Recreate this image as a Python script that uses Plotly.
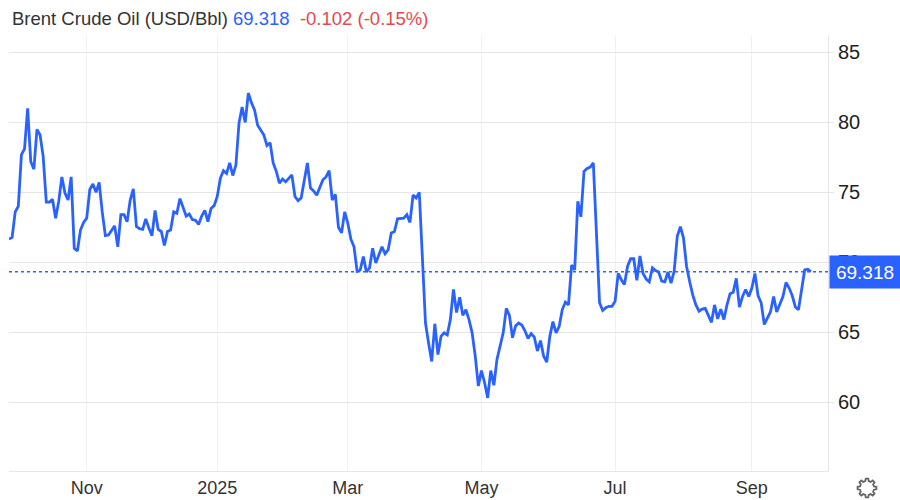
import math
import pandas as pd
import plotly.graph_objects as go

values = [
71.65,71.78,73.6,74.0,77.7,78.1,81.0,77.2,76.65,79.5,79.1,77.55,74.3,74.3,74.5,73.15,74.35,76.1,74.95,74.45,
76.1,71.0,70.8,72.3,72.85,73.15,75.2,75.6,75.0,75.7,73.6,71.9,71.95,72.3,72.6,71.1,73.4,73.4,72.9,74.45,
75.25,72.55,72.4,72.35,73.1,72.45,71.9,73.7,72.35,72.2,71.2,72.2,72.3,73.6,73.5,74.55,73.95,73.3,73.45,73.05,
73.0,72.7,73.3,73.7,72.9,73.85,74.05,74.7,76.0,76.55,76.35,77.1,76.2,76.95,79.95,81.1,80.0,82.1,81.4,80.9,
79.8,79.4,79.1,78.35,78.55,77.1,76.5,75.65,75.95,75.75,76.0,76.25,74.7,74.4,
74.6,75.8,77.1,75.3,75.1,74.8,75.3,75.9,76.1,76.55,74.45,74.85,72.5,72.1,73.6,72.8,71.65,71.1,69.35,69.45,
70.4,69.3,69.6,71.0,69.95,70.6,71.1,70.6,70.9,72.1,72.2,73.1,73.1,73.15,73.4,72.85,74.8,74.6,75.0,69.95,
65.65,64.2,62.9,65.6,63.4,64.7,64.95,64.8,65.9,68.05,66.4,67.5,66.2,66.6,65.9,64.95,63.3,61.15,62.25,61.4,
60.3,62.25,61.2,63.05,64.0,64.95,66.7,66.2,64.6,65.45,65.65,65.5,65.1,64.55,64.9,64.65,63.65,64.4,63.3,62.85,
64.7,65.75,64.95,65.4,66.6,67.15,66.95,69.8,69.45,74.35,73.25,76.5,76.7,76.8,77.1,72.1,67.1,
66.55,66.75,66.85,66.85,67.2,69.2,68.75,68.4,69.7,70.25,70.25,68.7,70.45,69.2,68.8,68.6,69.6,69.4,69.3,68.65,
68.6,69.3,68.5,69.35,71.85,72.55,71.75,69.7,68.6,67.65,66.95,66.5,66.65,66.7,66.2,65.7,66.95,65.95,66.65,65.9,
66.95,67.75,67.85,68.85,66.8,67.55,68.05,67.55,68.15,69.2,67.6,67.1,65.55,66.0,66.45,67.55,66.45,67.0,67.55,68.55,
68.15,67.6,66.8,66.6,68.05,69.45,69.5,69.318,
]
holidays = ["2024-12-25", "2025-01-01", "2025-04-18"]
all_days = pd.bdate_range(end="2025-09-26", periods=len(values) + len(holidays))
dates = all_days[~all_days.isin(pd.to_datetime(holidays))]
dates = dates[-len(values):]
tick_dates = ["2024-10-31", "2024-12-31", "2025-02-28", "2025-05-01", "2025-07-01", "2025-09-01"]
tick_labels = ["Nov", "2025", "Mar", "May", "Jul", "Sep"]
y_ticks = [60, 65, 70, 75, 80, 85]
last_value = 69.318
blue = "#2962ff"


def gear_path(teeth=8, outer=9.5, inner=7.2, hole=3.2):
    pts = []
    step = 2 * math.pi / teeth
    for k in range(teeth):
        a = k * step
        for frac, r in ((-0.30, inner), (-0.17, outer), (0.17, outer), (0.30, inner)):
            pts.append((r * math.cos(a + frac * step), r * math.sin(a + frac * step)))
    path = "M " + " L ".join(f"{x:.2f},{y:.2f}" for x, y in pts) + " Z"
    path += f" M {hole},0 A {hole},{hole} 0 1,0 {-hole},0 A {hole},{hole} 0 1,0 {hole},0 Z"
    return path


fig = go.Figure()
fig.add_trace(go.Scatter(x=dates, y=values, mode="lines",
                         line=dict(color=blue, width=2.8), hoverinfo="skip"))
fig.add_shape(type="line", xref="paper", x0=0, x1=1, yref="y", y0=last_value, y1=last_value,
              line=dict(color=blue, width=1.3, dash="dot"))
fig.add_shape(type="path", path=gear_path(), xref="paper", yref="paper",
              xsizemode="pixel", ysizemode="pixel", xanchor=1.0476, yanchor=-0.039,
              line=dict(color="#666666", width=1.8), layer="above")
fig.add_annotation(xref="paper", x=1.0012, xanchor="left", yref="y", y=last_value, yanchor="middle",
                   text="69.318", showarrow=False, bgcolor=blue, width=70, height=32, borderpad=0,
                   font=dict(family="Liberation Sans, Arial", size=19, color="white"))
fig.add_annotation(xref="paper", yref="paper", x=0.0012, y=1.037, xanchor="left", yanchor="middle",
                   showarrow=False,
                   text="Brent Crude Oil (USD/Bbl) <span style='color:#2962ff'>69.318</span>"
                        "  <span style='color:#e8474c'>-0.102 (-0.15%)</span>",
                   font=dict(family="Liberation Sans, Arial", size=18.5, color="#333333"))

fig.update_layout(
    width=900, height=500, autosize=False,
    margin=dict(l=9, r=72, t=35, b=29),
    paper_bgcolor="white", plot_bgcolor="white", showlegend=False,
    xaxis=dict(type="date", range=[dates[0], "2025-10-03 12:00"], automargin=False,
               rangebreaks=[dict(bounds=["sat", "mon"]), dict(values=holidays)],
               tickmode="array", tickvals=tick_dates, ticktext=tick_labels,
               showgrid=True, gridcolor="#eef2f6", gridwidth=1,
               showline=True, linecolor="#e6e6e6", linewidth=1, ticks="",
               tickfont=dict(family="Liberation Sans, Arial", size=18, color="#333333"), zeroline=False),
    yaxis=dict(side="right", range=[55.07, 86.25], tickmode="array", tickvals=y_ticks, automargin=False,
               showgrid=True, gridcolor="#e6e6e6", gridwidth=1.2,
               showline=True, linecolor="#e6e6e6", linewidth=1,
               ticks="outside", ticklen=5, tickcolor="#e6e6e6",
               tickfont=dict(family="Liberation Sans, Arial", size=20, color="#222222"), zeroline=False),
)
fig.write_html("out.html", config=dict(displayModeBar=False),
               post_script="document.body.style.margin='0';")
